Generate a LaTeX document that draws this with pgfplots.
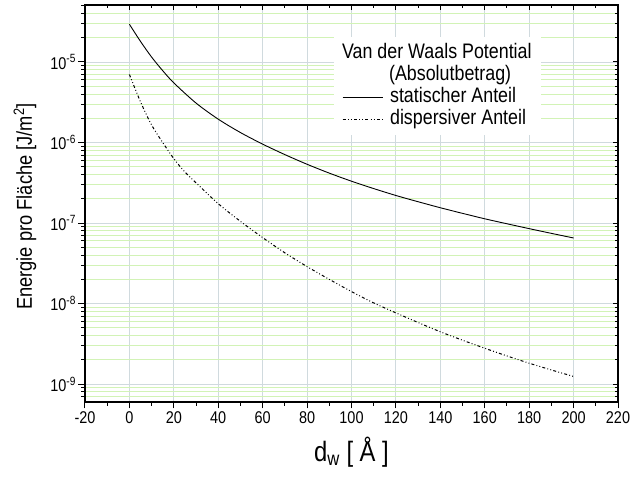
\documentclass[border=0pt]{standalone}
\usepackage{pgfplots}
\pgfplotsset{compat=1.18}
\usepackage{fontspec}
\setmainfont{Liberation Sans}[FakeStretch=0.85]
\definecolor{majgrid}{RGB}{208,218,222}
\definecolor{mingrid}{RGB}{210,243,182}
\begin{document}
\begin{tikzpicture}[x=1pt,y=1pt]
\path[use as bounding box] (0,0) rectangle (631,477);
\begin{axis}[
  at={(85pt,75pt)}, anchor=south west,
  scale only axis, width=533pt, height=397pt,
  ymode=log, log basis y=10,
  xmin=-20, xmax=220, ymin=6e-10, ymax=5.1e-5,
  xtick={-20,0,20,40,60,80,100,120,140,160,180,200,220},
  minor xtick={-10,10,30,50,70,90,110,130,150,170,190,210},
  ytick={1e-9,1e-8,1e-7,1e-6,1e-5},
  minor ytick={7e-10,8e-10,9e-10,2e-9,3e-9,4e-9,5e-9,6e-9,7e-9,8e-9,9e-9,
    2e-8,3e-8,4e-8,5e-8,6e-8,7e-8,8e-8,9e-8,
    2e-7,3e-7,4e-7,5e-7,6e-7,7e-7,8e-7,9e-7,
    2e-6,3e-6,4e-6,5e-6,6e-6,7e-6,8e-6,9e-6,
    2e-5,3e-5,4e-5,5e-5},
  axis line style={line width=1.6pt},
  major tick length=6.5pt, minor tick length=3.5pt,
  every tick/.style={black, line width=1pt},
  tick align=outside,
  xtick pos=left, ytick pos=left,
  xmajorgrids, ymajorgrids, yminorgrids,
  major grid style={majgrid, line width=0.9pt},
  minor grid style={mingrid, line width=0.9pt},
  xticklabels={-20,0,20,40,60,80,100,120,140,160,180,200,220},
  yticklabels={10\textsuperscript{-9},10\textsuperscript{-8},10\textsuperscript{-7},10\textsuperscript{-6},10\textsuperscript{-5}},
  ticklabel style={font=\fontsize{17}{20}\selectfont},
  yticklabel style={xshift=1pt},
  xlabel={d\textsubscript{w} [ Å ]},
  xlabel style={font=\fontsize{28}{32}\selectfont, at={(axis description cs:0.5,-0.151)}, anchor=base},
  ylabel={Energie pro Fläche [J/m\textsuperscript{2}]},
  ylabel style={font=\fontsize{21.5}{24}\selectfont, at={(axis description cs:-0.1126,0.4924)}, anchor=center},
  legend style={draw=none, fill=white, at={(axis description cs:0.467,0.919)}, anchor=north west,
    font=\fontsize{21}{22}\selectfont, inner xsep=8pt, inner ysep=5pt,
    nodes={text height=15pt, text depth=5pt, inner sep=1pt}},
  legend cell align=left,
  legend image code/.code={\draw[#1] (0pt,0pt) -- (40pt,0pt);},
]
\addlegendimage{empty legend}
\addlegendentry{\hspace*{-42pt}Van der Waals Potential}
\addlegendimage{empty legend}
\addlegendentry{\hspace*{5pt}(Absolutbetrag)}
\addplot[black, line width=0.9pt, smooth] table {
x y
0 2.94e-5
5 1.8e-5
10 1.15e-5
15 7.8e-6
20 5.5e-6
30 3.09e-6
40 1.95e-6
50 1.33e-6
60 9.55e-7
70 7.08e-7
80 5.37e-7
90 4.17e-7
100 3.31e-7
110 2.68e-7
120 2.2e-7
130 1.84e-7
140 1.55e-7
150 1.32e-7
160 1.13e-7
170 9.8e-8
180 8.53e-8
190 7.45e-8
200 6.53e-8
};
\addlegendentry{\hspace*{6pt}statischer Anteil}
\addplot[black, line width=1pt, smooth, dash pattern=on 3pt off 2.2pt on 0.9pt off 2.2pt on 0.9pt off 2.2pt] table {
x y
0 7.0e-6
5 3.2e-6
10 1.65e-6
15 1.0e-6
20 6.3e-7
25 4.3e-7
30 3.16e-7
40 1.74e-7
50 1.05e-7
60 6.6e-8
70 4.27e-8
80 2.88e-8
90 2.0e-8
100 1.41e-8
110 1.02e-8
120 7.67e-9
130 5.82e-9
140 4.47e-9
150 3.51e-9
160 2.79e-9
170 2.24e-9
180 1.82e-9
190 1.5e-9
200 1.245e-9
};
\addlegendentry{\hspace*{6pt}dispersiver Anteil}
\end{axis}
\begin{axis}[
  at={(85pt,75pt)}, anchor=south west,
  scale only axis, width=533pt, height=397pt,
  ymode=log, log basis y=10,
  xmin=-20, xmax=220, ymin=6e-10, ymax=5.1e-5,
  xtick={-20,0,20,40,60,80,100,120,140,160,180,200,220},
  minor xtick={-10,10,30,50,70,90,110,130,150,170,190,210},
  ytick={1e-9,1e-8,1e-7,1e-6,1e-5},
  minor ytick={7e-10,8e-10,9e-10,2e-9,3e-9,4e-9,5e-9,6e-9,7e-9,8e-9,9e-9,
    2e-8,3e-8,4e-8,5e-8,6e-8,7e-8,8e-8,9e-8,
    2e-7,3e-7,4e-7,5e-7,6e-7,7e-7,8e-7,9e-7,
    2e-6,3e-6,4e-6,5e-6,6e-6,7e-6,8e-6,9e-6,
    2e-5,3e-5,4e-5,5e-5},
  axis line style={line width=1.6pt},
  major tick length=5pt, minor tick length=3pt,
  every tick/.style={black, line width=1pt},
  tick align=inside,
  xtick pos=right, ytick pos=right,
  xticklabels={}, yticklabels={},
]
\end{axis}
\end{tikzpicture}
\end{document}
